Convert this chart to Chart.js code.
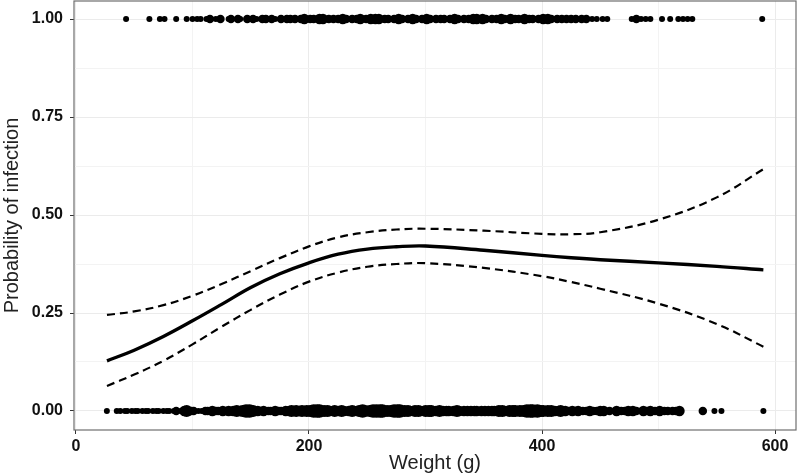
<!DOCTYPE html>
<html>
<head>
<meta charset="utf-8">
<script src="https://cdn.jsdelivr.net/npm/chart.js@4.4.1/dist/chart.umd.min.js"></script>
<style>
  html, body { margin: 0; padding: 0; background: #fff; }
  #wrap { width: 797px; height: 476px; }
</style>
</head>
<body>
<div id="wrap"><canvas id="infectionChart" width="797" height="476"></canvas></div>
<script>
// Observed fish: weight (g) and number of overlapping observations at that weight
const infectedWeights = [43, 63, 72, 76, 86, 95, 100, 104, 107, 112, 115, 120, 124, 131, 133, 139, 141, 147, 152, 155, 160, 163, 168, 171, 176, 181, 184, 188, 193, 196, 201, 204, 209, 212, 217, 221, 225, 229, 232, 237, 241, 244, 249, 253, 257, 260, 265, 268, 273, 277, 280, 285, 289, 292, 297, 301, 304, 309, 313, 316, 321, 325, 328, 333, 337, 341, 344, 349, 352, 357, 361, 365, 368, 373, 377, 380, 385, 389, 392, 397, 401, 405, 408, 413, 417, 421, 425, 429, 434, 438, 443, 447, 452, 456, 477, 481, 485, 489, 493, 503, 510, 517, 521, 525, 529, 589];
const infectedCounts  = [1, 1, 1, 1, 1, 1, 1, 1, 1, 1, 2, 1, 2, 1, 2, 2, 1, 2, 2, 1, 2, 2, 2, 1, 2, 2, 2, 2, 2, 3, 2, 2, 3, 3, 2, 2, 2, 3, 2, 2, 2, 3, 2, 3, 3, 3, 2, 2, 2, 3, 2, 2, 3, 2, 2, 3, 2, 2, 2, 2, 2, 3, 2, 2, 2, 3, 3, 3, 2, 2, 2, 3, 2, 3, 2, 2, 3, 2, 2, 2, 3, 3, 2, 2, 2, 2, 2, 2, 2, 2, 1, 1, 1, 1, 1, 2, 1, 1, 1, 1, 1, 1, 1, 1, 1, 1];

const uninfectedWeights = [26.5, 35, 38, 42, 44, 48, 51, 53, 57, 60, 62, 66, 69, 71, 75, 78, 80, 84, 86, 90, 93, 95, 99, 101, 105, 108, 111, 113, 117, 120, 122, 126, 129, 131, 135, 138, 141, 143, 146, 149, 152, 156, 158, 161, 165, 167, 171, 174, 176, 180, 183, 185, 189, 192, 194, 198, 201, 204, 207, 209, 213, 216, 218, 222, 225, 228, 230, 234, 237, 239, 243, 246, 248, 252, 255, 258, 261, 263, 267, 270, 273, 276, 278, 282, 285, 287, 291, 294, 296, 300, 303, 305, 309, 312, 315, 318, 320, 324, 327, 329, 333, 336, 339, 342, 344, 348, 351, 354, 357, 359, 363, 366, 368, 372, 375, 377, 381, 384, 387, 390, 392, 396, 399, 401, 405, 408, 411, 414, 416, 420, 423, 426, 429, 431, 435, 438, 441, 444, 447, 450, 453, 458, 464, 468, 471, 474, 478, 481, 487, 490, 493, 497, 501, 505, 508, 512, 515, 518, 538, 548, 554, 590];
const uninfectedCounts  = [1, 1, 1, 1, 1, 1, 1, 1, 1, 1, 1, 1, 1, 1, 1, 1, 1, 1, 2, 1, 3, 4, 2, 2, 1, 1, 2, 2, 3, 2, 2, 3, 2, 3, 3, 4, 3, 4, 5, 5, 4, 3, 2, 3, 2, 2, 3, 2, 2, 3, 3, 4, 4, 3, 4, 4, 4, 5, 5, 5, 4, 4, 3, 4, 3, 4, 3, 3, 4, 3, 4, 5, 4, 4, 5, 5, 5, 5, 4, 4, 5, 5, 5, 4, 4, 3, 4, 4, 3, 4, 4, 4, 3, 4, 3, 3, 3, 3, 4, 3, 3, 3, 3, 3, 3, 3, 3, 3, 3, 3, 4, 4, 3, 4, 4, 4, 4, 4, 5, 5, 5, 5, 4, 4, 4, 4, 3, 3, 4, 3, 2, 3, 2, 3, 2, 2, 3, 2, 2, 3, 3, 2, 3, 2, 2, 3, 3, 2, 3, 2, 3, 2, 3, 2, 2, 2, 2, 3, 2, 1, 1, 1, 1];

// Fitted probability with confidence band
const fitWeights = [26.6, 50, 75, 100, 125, 150, 175, 200, 225, 250, 275, 300, 350, 400, 425, 450, 500, 550, 590];
const fitProb    = [0.128, 0.155, 0.190, 0.230, 0.272, 0.315, 0.350, 0.378, 0.400, 0.413, 0.419, 0.421, 0.410, 0.397, 0.391, 0.386, 0.378, 0.369, 0.360];
const fitUpper   = [0.245, 0.254, 0.270, 0.294, 0.324, 0.357, 0.390, 0.420, 0.443, 0.456, 0.463, 0.465, 0.460, 0.452, 0.451, 0.456, 0.488, 0.545, 0.617];
const fitLower   = [0.064, 0.093, 0.128, 0.170, 0.215, 0.258, 0.297, 0.330, 0.353, 0.368, 0.375, 0.377, 0.365, 0.344, 0.329, 0.312, 0.274, 0.222, 0.164];

const xTicks = [0, 100, 200, 300, 400, 500, 600];
const yTicks = [0, 0.125, 0.25, 0.375, 0.5, 0.625, 0.75, 0.875, 1];

const toPoints = (xs, ys) => xs.map((x, i) => ({ x: x, y: ys[i] }));
const radiusFor = c => 3 * Math.sqrt(c);

// no extra layout padding for point sizes, the panel is sized by hand
Chart.registry.getController('scatter').prototype.getMaxOverflow = function () { return 0; };

// panel border on all four sides
const panelBorder = {
  id: 'panelBorder',
  afterDraw(chart) {
    const { ctx, chartArea: a } = chart;
    ctx.save();
    ctx.strokeStyle = '#6e6e6e';
    ctx.lineWidth = 1.2;
    ctx.strokeRect(a.left, a.top, a.right - a.left, a.bottom - a.top);
    ctx.restore();
  }
};

const isMajorX = v => v % 200 === 0;
const isMajorY = v => Math.abs(v * 4 - Math.round(v * 4)) < 1e-9;

const fitLine = (ys, width, dash) => ({
  data: toPoints(fitWeights, ys),
  showLine: true,
  borderColor: '#000',
  borderWidth: width,
  borderDash: dash,
  pointRadius: 0,
  pointHoverRadius: 0,
  tension: 0.4
});

new Chart(document.getElementById('infectionChart'), {
  type: 'scatter',
  data: {
    datasets: [
      {
        data: toPoints(uninfectedWeights, uninfectedWeights.map(() => 0)),
        backgroundColor: '#000',
        borderWidth: 0,
        pointHoverRadius: 0,
        pointRadius: uninfectedCounts.map(radiusFor)
      },
      {
        data: toPoints(infectedWeights, infectedWeights.map(() => 1)),
        backgroundColor: '#000',
        borderWidth: 0,
        pointHoverRadius: 0,
        pointRadius: infectedCounts.map(radiusFor)
      },
      fitLine(fitUpper, 2.2, [8, 5]),
      fitLine(fitLower, 2.2, [8, 5]),
      fitLine(fitProb, 3.4, [])
    ]
  },
  options: {
    responsive: false,
    animation: false,
    events: [],
    layout: { padding: { top: 1, right: 1, left: 0, bottom: 0 } },
    plugins: { legend: { display: false }, tooltip: { enabled: false } },
    scales: {
      x: {
        type: 'linear',
        min: -1.7,
        max: 618,
        afterBuildTicks: s => { s.ticks = xTicks.map(v => ({ value: v })); },
        afterFit: s => { s.height = 46; s.paddingLeft = 0; s.paddingRight = 0; },
        border: { display: false },
        grid: {
          color: c => isMajorX(c.tick.value) ? '#ebebeb' : '#f3f3f3',
          tickColor: c => isMajorX(c.tick.value) ? '#333' : 'rgba(0,0,0,0)',
          tickLength: 4
        },
        ticks: {
          padding: 3,
          color: '#111',
          font: { family: 'Liberation Sans, Arial, sans-serif', size: 16, weight: 'bold' },
          callback: v => isMajorX(v) ? String(v) : ''
        },
        title: {
          display: true,
          text: 'Weight (g)',
          color: '#222',
          padding: { top: 0, bottom: 1 },
          font: { family: 'Liberation Sans, Arial, sans-serif', size: 20 }
        }
      },
      y: {
        min: -0.0485,
        max: 1.046,
        afterBuildTicks: s => { s.ticks = yTicks.map(v => ({ value: v })); },
        afterFit: s => { s.width = 74; s.paddingTop = 0; s.paddingBottom = 0; },
        border: { display: false },
        grid: {
          color: c => isMajorY(c.tick.value) ? '#ebebeb' : '#f3f3f3',
          tickColor: c => isMajorY(c.tick.value) ? '#333' : 'rgba(0,0,0,0)',
          tickLength: 4
        },
        ticks: {
          padding: 7,
          color: '#111',
          font: { family: 'Liberation Sans, Arial, sans-serif', size: 16, weight: 'bold' },
          callback: v => isMajorY(v) ? v.toFixed(2) : ''
        },
        title: {
          display: true,
          text: 'Probability of infection',
          color: '#222',
          padding: { top: 0, bottom: 0 },
          font: { family: 'Liberation Sans, Arial, sans-serif', size: 20 }
        }
      }
    }
  },
  plugins: [panelBorder]
});
</script>
</body>
</html>
